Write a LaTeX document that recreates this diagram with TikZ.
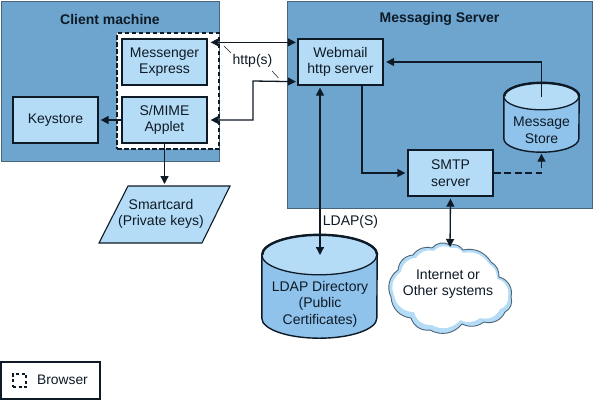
\documentclass[tikz,border=0pt]{standalone}
\usepackage{fontspec}
\setmainfont{Liberation Sans}
\usetikzlibrary{arrows.meta}
\definecolor{panel}{HTML}{6DA5CF}
\definecolor{boxfill}{HTML}{B5DCF6}
\definecolor{drumbody}{HTML}{8FC3EC}
\definecolor{edgecol}{HTML}{4A6478}
\definecolor{ink}{HTML}{0E1A26}
\definecolor{halo}{HTML}{B5DCF6}
\tikzset{
  panelbox/.style={draw=edgecol,line width=.9pt,fill=panel,anchor=north west,inner sep=0pt},
  titletext/.style={font=\bfseries\fontsize{14}{17}\selectfont,text=ink,inner sep=0pt},
  plainbox/.style={draw=ink,line width=1.3pt,fill=boxfill,minimum width=85pt,minimum height=46pt,inner sep=0pt,align=center,text=ink,font=\fontsize{14}{16.5}\selectfont},
  labeltext/.style={inner sep=0pt,align=center,text=ink,font=\fontsize{14}{16.5}\selectfont},
  drumframe/.style={inner sep=0pt,draw=none},
  conn/.style={draw=ink,line width=1.3pt},
  arr/.style={conn,-{Triangle[length=8pt,width=8pt]}},
  darr/.style={conn,{Triangle[length=8pt,width=8pt]}-{Triangle[length=8pt,width=8pt]}},
  leader/.style={draw=ink,line width=.5pt},
}
\newcommand{\drumdraw}[4]{% name, x radius, y radius
  \path[fill=drumbody,draw=ink,line width=1.4pt]
    ([yshift=-#3pt]#1.north west) -- ([yshift=#3pt]#1.south west)
    arc[start angle=180,end angle=360,x radius=#2pt,y radius=#3pt]
    -- ([yshift=-#3pt]#1.north east)
    arc[start angle=0,end angle=180,x radius=#2pt,y radius=#3pt] -- cycle;
  \path[fill=boxfill,draw=ink,line width=1.3pt]
    ([yshift=-#3pt]#1.north west)
    arc[start angle=180,end angle=540,x radius=#2pt,y radius=#3pt];
  \draw[ink,line width=#4pt]
    ([yshift=-#3pt]#1.north east)
    arc[start angle=0,end angle=180,x radius=#2pt,y radius=#3pt];
}
\begin{document}
\begin{tikzpicture}[x=1pt,y=-1pt]
\useasboundingbox (0,0) rectangle (593,400);
\fill[white] (0,0) rectangle (593,400);

% panels
\node[panelbox,minimum width=218pt,minimum height=160pt] (client) at (1,1) {};
\node[panelbox,minimum width=305pt,minimum height=207pt] (server) at (287,1) {};
\node[titletext] (clienttitle) at (110,19) {Client machine};
\node[titletext] (servertitle) at (439.5,19) {Messaging Server};

% browser frame
\node[draw=ink,fill=white,line width=1.3pt,dash pattern=on 4.5pt off 2.5pt,minimum width=102pt,minimum height=116pt,inner sep=0pt] (browserframe) at (168,91) {};

% boxes
\node[plainbox] (messenger) at (164.5,62) {Messenger\\Express};
\node[plainbox] (smime) at (164.5,120) {S/MIME\\Applet};
\node[plainbox] (keystore) at (55.5,120) {Keystore};
\node[plainbox] (webmail) at (340.5,62) {Webmail\\http server};
\node[plainbox] (smtp) at (450.5,173) {SMTP\\server};

% drums
\node[drumframe,minimum width=75pt,minimum height=69pt] (storeframe) at (541.5,117.5) {};
\drumdraw{storeframe}{37.5}{13.5}{2.4}
\node[labeltext] (storetext) at (541.5,130) {Message\\Store};
\node[drumframe,minimum width=115pt,minimum height=103pt] (ldapframe) at (319.5,286.5) {};
\drumdraw{ldapframe}{57.5}{20}{2.4}
\node[labeltext] (ldaptext) at (320,304) {LDAP Directory\\(Public\\Certificates)};

% smartcard
\coordinate (scA) at (128,186);
\coordinate (scB) at (230,186);
\coordinate (scC) at (202,243);
\coordinate (scD) at (99,243);
\path[fill=boxfill,draw=ink,line width=1.1pt] (scA) -- (scB) -- (scC) -- (scD) -- cycle;
\node[labeltext] (smartcard) at (161,214) {Smartcard\\(Private keys)};

% cloud
\coordinate (cloudtop) at (450,245);
\path[fill=halo,draw=edgecol,line width=.9pt]
  (cloudtop) to[bend left=35] (463,250) to[bend left=35] (491,262)
  to[bend left=30] (499,277) to[bend left=45] (511,297)
  to[bend left=40] (505,312) to[bend left=40] (484,322)
  to[bend left=30] (462,324) to[bend left=40] (430,330)
  to[bend left=40] (411,318) to[bend left=40] (391,297)
  to[bend left=40] (398,270) to[bend left=40] (413,255)
  to[bend left=35] (432,248) to[bend left=40] (cloudtop);
\path[fill=white]
  (451,248) to[bend left=35] (463,253) to[bend left=35] (489,264)
  to[bend left=30] (497,279) to[bend left=45] (508,296)
  to[bend left=40] (500,309) to[bend left=40] (480,318)
  to[bend left=30] (460,320) to[bend left=40] (432,325)
  to[bend left=40] (414,312) to[bend left=40] (394,295)
  to[bend left=40] (401,272) to[bend left=40] (416,258)
  to[bend left=35] (434,251) to[bend left=40] (451,248);
\node[labeltext] (cloudtext) at (448,284) {Internet or\\Other systems};

% connectors
\draw[darr] ([xshift=3pt,yshift=-4pt]messenger.north east) -- ([xshift=-1.5pt,yshift=-4pt]webmail.north west);
\coordinate (httpbend) at (253,120);
\coordinate (httpbendb) at (253,81);
\draw[darr] ([xshift=3pt]smime.east) -- (httpbend) -- (httpbendb) -- ([xshift=-1.5pt,yshift=4pt]webmail.south west);
\draw[arr] (smime.west) -- ([xshift=2pt]keystore.east);
\draw[arr] (smime.south) -- ([yshift=2pt]164.5,186);
\coordinate (storetop) at (541.5,97);
\coordinate (storecorner) at (541.5,62);
\draw[arr] (storetop) -- (storecorner) -- ([xshift=2.5pt,yshift=0pt]webmail.east);
\coordinate (wcorner) at (362,173);
\draw[arr] (webmail.south -| wcorner) -- (wcorner) -- ([xshift=-2pt]smtp.west);
\coordinate (scorner) at (541.5,173);
\draw[arr,dash pattern=on 7pt off 3.5pt] (smtp.east) -- (scorner) -- ([yshift=-1.5pt]storeframe.south);
\coordinate (ldaptop) at (320,255);
\draw[darr] ([xshift=-20.5pt,yshift=-2pt]webmail.south) -- (ldaptop);
\draw[darr] ([yshift=-2pt]smtp.south) -- ([yshift=-2pt]cloudtop);

% labels
\node[labeltext] (http) at (252.5,61) {http(s)};
\node[labeltext] (ldaps) at (350.5,222) {LDAP(S)};
\coordinate (la) at (224,46);
\coordinate (lb) at (231,53);
\coordinate (lc) at (272,71);
\coordinate (ld) at (278.5,78);
\draw[leader] (la) -- (lb);
\draw[leader] (lc) -- (ld);

% legend
\node[draw=ink,fill=white,line width=1.2pt,minimum width=99pt,minimum height=37pt,inner sep=0pt] (legend) at (50.5,380.5) {};
\node[draw=ink,line width=1.2pt,dash pattern=on 3pt off 2.5pt,minimum size=13pt,inner sep=0pt] (legendkey) at (19.5,380.5) {};
\node[labeltext,font=\fontsize{13.8}{16}\selectfont] (legendtext) at (62.5,380) {Browser};
\end{tikzpicture}
\end{document}
